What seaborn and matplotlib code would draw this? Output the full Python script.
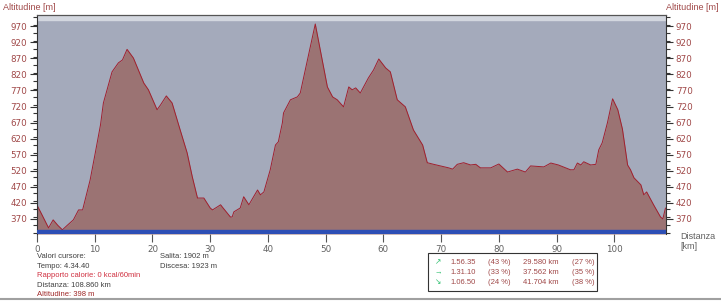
import matplotlib
matplotlib.use("Agg")
import matplotlib.pyplot as plt
from matplotlib.ticker import MultipleLocator
import seaborn as sns
import pandas as pd

distance_km = [0.0, 0.8, 2.0, 2.8, 3.6, 4.4, 5.3, 6.3, 7.2, 7.9, 9.2, 10.1, 11.0, 11.5,
               13.0, 14.1, 14.8, 15.6, 16.7, 18.5, 19.3, 20.8, 21.4, 22.4, 23.4, 24.8,
               26.0, 26.9, 27.8, 28.9, 30.0, 30.4, 31.2, 31.8, 32.1, 33.5, 33.8, 34.1,
               35.2, 35.8, 36.7, 38.2, 38.7, 39.3, 40.4, 41.3, 41.8, 42.5, 42.7, 43.9,
               45.1, 45.6, 48.2, 50.3, 51.2, 52.0, 53.1, 54.0, 54.6, 55.2, 56.0, 57.4,
               58.3, 59.2, 60.4, 61.2, 62.4, 63.8, 65.2, 66.8, 67.6, 68.7, 71.3, 72.0,
               72.8, 73.9, 75.1, 76.0, 76.8, 78.6, 80.0, 81.5, 83.2, 84.6, 85.5, 87.8,
               89.0, 90.3, 92.4, 93.0, 93.6, 94.2, 94.7, 95.9, 96.8, 97.3, 97.9, 98.8,
               99.7, 100.6, 101.4, 102.3, 102.8, 103.4, 104.6, 105.1, 105.6, 106.8,
               108.0, 108.4, 108.86]
altitude_m = [413, 385, 342, 367, 350, 336, 351, 367, 398, 398, 491, 576, 663, 731,
              828, 856, 865, 898, 871, 793, 772, 710, 725, 753, 731, 647,
              576, 501, 435, 435, 404, 398, 407, 414, 407, 376, 376, 392,
              404, 439, 414, 460, 445, 454, 523, 600, 610, 669, 700, 741,
              750, 762, 977, 781, 750, 741, 719, 781, 772, 778, 762, 809,
              834, 868, 840, 828, 741, 719, 647, 600, 545, 540, 529, 525,
              540, 545, 538, 540, 529, 529, 541, 516, 525, 516, 535, 532,
              544, 538, 523, 523, 544, 538, 548, 538, 540, 585, 607, 669,
              744, 710, 650, 538, 523, 498, 476, 445, 454, 414,
              376, 370, 404]

x_ticks = [0, 10, 20, 30, 40, 50, 60, 70, 80, 90, 100]
y_ticks = [370, 420, 470, 520, 570, 620, 670, 720, 770, 820, 870, 920, 970]

df = pd.DataFrame({"km": distance_km, "alt": altitude_m})

sns.set_style("white")
plt.rcParams['font.family'] = ['Liberation Sans', 'DejaVu Sans']

W, H = 721, 302
fig = plt.figure(figsize=(W / 100, H / 100), dpi=100)
fig.patch.set_facecolor("white")
ax = fig.add_axes([37 / W, (H - 234) / H, (666 - 37) / W, (234 - 15) / H])

YMIN, YMAX = 323, 1005
XMAX = 108.95
ax.set_facecolor("#A4AABB")
ax.axhspan(990, YMAX, color="#D3D7DF", zorder=0)
ax.fill_between(df["km"], YMIN, df["alt"], color="#9B7373", zorder=1, linewidth=0)
sns.lineplot(data=df, x="km", y="alt", ax=ax, color="#A0202E", linewidth=0.7, zorder=2)
ax.axhspan(YMIN, 335, color="#2D4FB5", zorder=3)

ax.set_xlim(0, XMAX)
ax.set_ylim(YMIN, YMAX)
ax.set_xlabel("")
ax.set_ylabel("")
tick_font = {"family": ["DejaVu Sans"], "size": 6.3}
ax.set_xticks(x_ticks)
ax.set_xticklabels([str(v) for v in x_ticks], fontdict=tick_font, color="#606060")
ax.set_yticks(y_ticks)
ax.set_yticklabels([str(v) for v in y_ticks], fontdict=tick_font, color="#A04848")
for lab in ax.yaxis.get_ticklabels(which="major"):
    lab.set_fontfamily(["DejaVu Sans"])
ax.yaxis.set_minor_locator(MultipleLocator(25))
ax.tick_params(axis="y", which="major", length=5, width=0.8, color="#333333",
               left=True, right=True, labelleft=True, labelright=True, pad=2,
               labelsize=6.3, labelcolor="#A04848")
ax.tick_params(axis="y", which="minor", length=3, width=0.8, color="#333333",
               left=True, right=True)
ax.tick_params(axis="x", which="major", length=6, width=0.8, color="#555555",
               bottom=True, pad=2)
for lab in ax.yaxis.get_ticklabels() + ax.yaxis.get_ticklabels(which="major"):
    lab.set_fontfamily(["DejaVu Sans"])
for t in ax.yaxis.get_major_ticks():
    t.label2.set_fontfamily(["DejaVu Sans"])
    t.label2.set_fontsize(6.3)
    t.label2.set_color("#A04848")
for side in ["left", "right"]:
    ax.spines[side].set_color("#333333")
    ax.spines[side].set_linewidth(0.8)
ax.spines["top"].set_color("#555555")
ax.spines["top"].set_linewidth(0.9)
ax.spines["bottom"].set_visible(False)

# Axis titles
fig.text(3 / W, 1 - 7 / H, "Altitudine [m]", fontsize=6.5, color="#A04848",
         ha="left", va="center")
fig.text(719 / W, 1 - 7 / H, "Altitudine [m]", fontsize=6.5, color="#A04848",
         ha="right", va="center")
fig.text(680 / W, 1 - 232 / H, "Distanza\n[km]", fontsize=6.5, color="#606060",
         ha="left", va="top", linespacing=1.15)

# Cursor information
info = [("Valori cursore:", "#404040"), ("Tempo: 4.34.40", "#404040"),
        ("Rapporto calorie: 0 kcal/60min", "#D03040"),
        ("Distanza: 108.860 km", "#404040"), ("Altitudine: 398 m", "#A02828")]
for i, (t, c) in enumerate(info):
    fig.text(37 / W, 1 - (257 + i * 9.4) / H, t, fontsize=5.5, color=c,
             ha="left", va="center")
fig.text(160 / W, 1 - 257 / H, "Salita: 1902 m", fontsize=5.5, color="#404040",
         ha="left", va="center")
fig.text(160 / W, 1 - 266.4 / H, "Discesa: 1923 m", fontsize=5.5, color="#404040",
         ha="left", va="center")

# Summary box
box = plt.Rectangle((428 / W, 1 - 291 / H), (597 - 428) / W, (291 - 253) / H,
                    transform=fig.transFigure, fill=False, edgecolor="#333333",
                    linewidth=0.8)
fig.add_artist(box)
arrows = ["\u2197", "\u2192", "\u2198"]
times = ["1.56.35", "1.31.10", "1.06.50"]
time_pct = ["(43 %)", "(33 %)", "(24 %)"]
dists = ["29.580 km", "37.562 km", "41.704 km"]
dist_pct = ["(27 %)", "(35 %)", "(38 %)"]
for i in range(3):
    yy = 1 - (263 + i * 10) / H
    fig.text(435 / W, yy, arrows[i], fontsize=5.5, color="#30C070", ha="left", va="center")
    fig.text(450 / W, yy, times[i], fontsize=5.5, color="#A04848", ha="left", va="center")
    fig.text(488 / W, yy, time_pct[i], fontsize=5.5, color="#A04848", ha="left", va="center")
    fig.text(523 / W, yy, dists[i], fontsize=5.5, color="#A04848", ha="left", va="center")
    fig.text(572 / W, yy, dist_pct[i], fontsize=5.5, color="#A04848", ha="left", va="center")

# Bottom border line
fig.add_artist(plt.Line2D([0, 1], [1 - 298.5 / H, 1 - 298.5 / H],
                          transform=fig.transFigure, color="#A0A0A0", linewidth=1.5))

fig.savefig("out.png", dpi=100)
